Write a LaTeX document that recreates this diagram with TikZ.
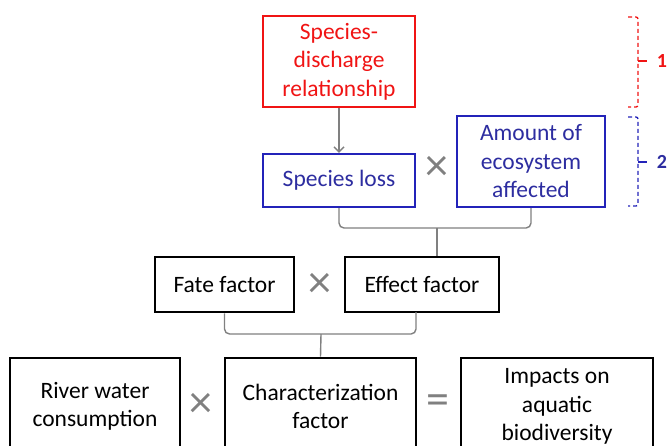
\documentclass[tikz,border=0pt]{standalone}
\usepackage{fontspec}
\setmainfont{Carlito}
\usetikzlibrary{arrows.meta}
\definecolor{boxred}{RGB}{240,20,20}
\definecolor{boxblue}{RGB}{35,35,185}
\definecolor{txtblue}{RGB}{45,45,160}
\definecolor{lnk}{RGB}{128,128,128}
\tikzset{
  box/.style={draw=black, line width=2.8pt, align=center, inner sep=0pt,
    font=\fontsize{23.5}{28.5}\selectfont, text=black},
  redbox/.style={box, draw=boxred, line width=2.4pt, text=boxred},
  bluebox/.style={box, draw=boxblue, line width=2.4pt, text=txtblue},
  conn/.style={draw=lnk, line width=1.4pt, rounded corners=5pt},
  op/.style={text=lnk, font=\fontsize{46}{46}\selectfont, inner sep=0pt},
  bracket/.style={line width=1.3pt, dash pattern=on 4pt off 3pt, rounded corners=2pt},
  tag/.style={font=\bfseries\fontsize{20}{20}\selectfont, inner sep=0pt}
}
\begin{document}
\begin{tikzpicture}[x=1pt,y=-1pt]
\useasboundingbox (0,0) rectangle (671,445);
\clip (0,0) rectangle (671,445);

% upper level: species-discharge relationship and its factors
\node[redbox, minimum width=152pt, minimum height=91pt] (sdr) at (339,61.5)
  {Species-\\discharge\\relationship};
\node[bluebox, minimum width=152pt, minimum height=53pt] (sl) at (339,180.5)
  {Species loss};
\node[bluebox, minimum width=148pt, minimum height=91pt] (am) at (531,161.5)
  {Amount of\\ecosystem\\affected};
\node[op] (x1) at (437,168) {×};

\draw[draw=lnk, line width=1.4pt, -{Straight Barb[length=5pt,width=10pt]}] (sdr.south) -- (sl.north);

% middle level
\node[box, minimum width=139pt, minimum height=55pt] (fate) at (224.5,284.5) {Fate factor};
\node[box, minimum width=154pt, minimum height=55pt] (eff) at (422,284.5) {Effect factor};
\node[op] (x2) at (320,285) {×};

\coordinate (j1) at (437,228);
\draw[conn] (sl.south) |- (j1) -| (am.south);
\draw[conn] (j1) -- (j1 |- eff.north);

% bottom level
\node[box, minimum width=170pt, minimum height=97pt] (rw) at (95,406.5)
  {River water\\consumption};
\node[box, minimum width=191pt, minimum height=97pt] (cf) at (320.5,406.5)
  {Characterization\\factor};
\node[box, minimum width=192pt, minimum height=97pt] (imp) at (557,406.5)
  {Impacts on\\aquatic\\biodiversity};
\node[op] (x3) at (201,405) {×};
\node[op] (eq) at (438,405) {=};

\coordinate (j2) at (321,334);
\coordinate (effb) at (416,312);
\draw[conn] (fate.south) |- (j2) -| (effb);
\draw[conn] (j2) -- (cf.north);

% level brackets on the right
\draw[bracket, draw=boxred] (628,17) -- (638,17) -- (638,107) -- (628,107);
\draw[line width=1.3pt, draw=boxred] (638,61) -- (647,61);
\node[tag, text=boxred] (t1) at (662,61) {1};

\draw[bracket, draw=boxblue] (628,117) -- (638,117) -- (638,206) -- (628,206);
\draw[line width=1.3pt, draw=boxblue] (638,162) -- (647,162);
\node[tag, text=txtblue] (t2) at (662,162) {2};
\end{tikzpicture}
\end{document}
